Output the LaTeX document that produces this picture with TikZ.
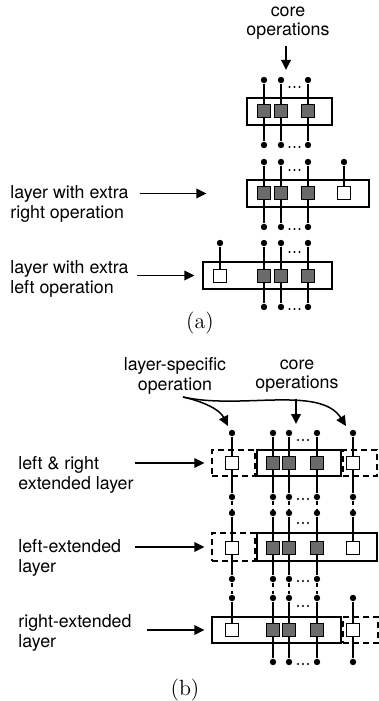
\documentclass[tikz,border=0pt]{standalone}
\usepackage{fontspec}
\setsansfont{TeX Gyre Heros}
\usetikzlibrary{arrows.meta, positioning}

\begin{document}
\begin{tikzpicture}[x=0.5pt, y=-0.5pt, >={Triangle[length=5pt,width=4.8pt]},
	lbl/.style={font=\sffamily\fontsize{8.9}{9.6}\selectfont, inner sep=0pt},
	captxt/.style={font=\fontsize{11}{13}\selectfont, inner sep=0pt},
	arr/.style={->, line width=0.75pt},
	wire/.style={line width=1.25pt},
	link/.style={line width=0.7pt, dash pattern=on 2.2pt off 1.8pt},
	pin/.style={circle, fill, inner sep=0pt, minimum size=3.2pt},
	coreop/.style={draw, line width=0.7pt, fill=black!58, minimum size=6.4pt, inner sep=0pt},
	extop/.style={coreop, fill=white},
	layerbox/.style={draw, line width=0.6pt, inner sep=0pt},
	extbox/.style={layerbox, dash pattern=on 3pt off 2pt}]
	\useasboundingbox (0,0) rectangle (379,701);

	% ---------- (a) ----------
	\node[lbl, align=center] (acore) at (288,23) {core\\operations};
	\coordinate (acoretip) at (286,70);
	\draw[arr, shorten <=3pt] (acoretip |- acore.south) -- (acoretip);

	% camada com as operacoes do nucleo
	\foreach \n/\x in {1/264, 2/281, 3/308} {
		\node[pin] (a1t\n) at (\x,80) {};
		\node[pin] (a1b\n) at (\x,145) {};
		\draw[wire] (a1t\n) -- (a1b\n);
	}
	\node[layerbox, minimum width=42.5pt, minimum height=13.5pt] (a1box) at (289.5,111.5) {};
	\foreach \n/\x in {1/264, 2/281, 3/308}
		\node[coreop] (a1op\n) at (\x,111) {};
	\foreach \y in {87,147} \foreach \d in {-5,0,5}
		\fill (294.5+\d,\y) circle (0.6pt);

	% camada com operacao extra a direita
	\foreach \n/\x in {1/264, 2/281, 3/308} {
		\node[pin] (a2t\n) at (\x,162) {};
		\node[pin] (a2b\n) at (\x,227) {};
		\draw[wire] (a2t\n) -- (a2b\n);
	}
	\node[pin] (a2tx) at (344,162) {};
	\node[layerbox, minimum width=61pt, minimum height=13.5pt] (a2box) at (308,193.5) {};
	\foreach \n/\x in {1/264, 2/281, 3/308}
		\node[coreop] (a2op\n) at (\x,193) {};
	\node[extop] (a2opx) at (344,193) {};
	\draw[wire] (a2tx) -- (a2opx);
	\foreach \y in {170,229} \foreach \d in {-5,0,5}
		\fill (294.5+\d,\y) circle (0.6pt);
	\node[lbl, align=left, anchor=west] (a2lbl) at (10,204) {layer with extra\\right operation};
	\draw[arr] ([xshift=5.5pt]a2lbl.east |- a2box.west) -- ([xshift=-20pt]a2box.west);

	% camada com operacao extra a esquerda
	\foreach \n/\x in {1/264, 2/281, 3/308} {
		\node[pin] (a3t\n) at (\x,243) {};
		\node[pin] (a3b\n) at (\x,307) {};
		\draw[wire] (a3t\n) -- (a3b\n);
	}
	\node[pin] (a3tx) at (220,243) {};
	\node[layerbox, minimum width=64.5pt, minimum height=13.5pt] (a3box) at (267.5,275.5) {};
	\foreach \n/\x in {1/264, 2/281, 3/308}
		\node[coreop] (a3op\n) at (\x,276) {};
	\node[extop] (a3opx) at (220,276) {};
	\draw[wire] (a3tx) -- (a3opx);
	\foreach \y in {252,309} \foreach \d in {-5,0,5}
		\fill (294.5+\d,\y) circle (0.6pt);
	\node[lbl, align=left, anchor=west] (a3lbl) at (10,279) {layer with extra\\left operation};
	\draw[arr] ([xshift=4pt]a3lbl.east |- a3box.west) -- ([xshift=-4pt]a3box.west);

	\node[captxt] (acap) at (200,323) {(a)};

	% ---------- (b) ----------
	\node[lbl, align=center] (bspec) at (175,376) {layer-specific\\operation};
	\node[lbl, align=center] (bcore) at (297,376) {core\\operations};
	\coordinate (specsrc) at (183,397);
	\coordinate (bLtip) at (228,426);
	\coordinate (bRtip) at (346,426);
	\coordinate (bcoretip) at (296,424);
	\draw[arr] (specsrc) .. controls (205,402) and (220,410) .. (bLtip);
	\draw[arr] (specsrc) .. controls (240,410) and (320,385) .. (bRtip);
	\draw[arr, shorten <=3pt] (bcoretip |- bcore.south) -- (bcoretip);

	% camada estendida nos dois lados
	\foreach \n/\x in {L/232, 1/273, 2/289, 3/317, R/353} {
		\node[pin] (b1t\n) at (\x,433) {};
		\node[pin] (b1b\n) at (\x,497) {};
		\draw[wire] (b1t\n) -- (b1b\n);
	}
	\node[extbox, minimum width=21.5pt, minimum height=13pt] (b1left) at (233.5,463) {};
	\node[layerbox, minimum width=42pt, minimum height=13pt] (b1box) at (299,463) {};
	\node[extbox, minimum width=17pt, minimum height=13pt] (b1right) at (360,463) {};
	\foreach \n/\x in {1/273, 2/289, 3/317}
		\node[coreop] (b1op\n) at (\x,463) {};
	\node[extop] (b1opL) at (232,463) {};
	\node[extop] (b1opR) at (353,463) {};
	\foreach \y in {440,499} \foreach \d in {-5,0,5}
		\fill (303+\d,\y) circle (0.6pt);
	\node[lbl, align=left, anchor=west] (b1lbl) at (18,475) {left \& right\\extended layer};
	\draw[arr] ([xshift=0.5pt]b1lbl.east |- b1left.west) -- ([xshift=-3.5pt]b1left.west);

	% camada estendida a esquerda
	\foreach \n/\x in {L/232, 1/273, 2/289, 3/317} {
		\node[pin] (b2t\n) at (\x,513) {};
		\node[pin] (b2b\n) at (\x,579) {};
		\draw[wire] (b2t\n) -- (b2b\n);
	}
	\node[pin] (b2tR) at (353,513) {};
	\foreach \n in {L,1,2,3,R}
		\draw[link] (b1b\n) -- (b2t\n);
	\node[extbox, minimum width=21.5pt, minimum height=14pt] (b2left) at (233.5,547) {};
	\node[layerbox, minimum width=60pt, minimum height=14pt] (b2box) at (317,547) {};
	\foreach \n/\x in {1/273, 2/289, 3/317}
		\node[coreop] (b2op\n) at (\x,548) {};
	\node[extop] (b2opL) at (232,548) {};
	\node[extop] (b2opR) at (353,548) {};
	\draw[wire] (b2tR) -- (b2opR);
	\foreach \y in {523,581} \foreach \d in {-5,0,5}
		\fill (303+\d,\y) circle (0.6pt);
	\node[lbl, align=left, anchor=west] (b2lbl) at (18,558) {left-extended\\layer};
	\draw[arr] ([xshift=7pt]b2lbl.east |- b2left.west) -- ([xshift=-3.5pt]b2left.west);

	% camada estendida a direita
	\foreach \n/\x in {1/273, 2/289, 3/317, R/353} {
		\node[pin] (b3t\n) at (\x,598) {};
		\node[pin] (b3b\n) at (\x,662) {};
		\draw[wire] (b3t\n) -- (b3b\n);
	}
	\node[pin] (b3tL) at (232,598) {};
	\foreach \n in {L,1,2,3}
		\draw[link] (b2b\n) -- (b3t\n);
	\node[layerbox, minimum width=64.5pt, minimum height=13pt] (b3box) at (276.5,630) {};
	\node[extbox, minimum width=17.5pt, minimum height=13pt] (b3right) at (360.5,630) {};
	\foreach \n/\x in {1/273, 2/289, 3/317}
		\node[coreop] (b3op\n) at (\x,630) {};
	\node[extop] (b3opL) at (232,630) {};
	\node[extop] (b3opR) at (353,630) {};
	\draw[wire] (b3tL) -- (b3opL);
	\foreach \y in {606,664} \foreach \d in {-5,0,5}
		\fill (303+\d,\y) circle (0.6pt);
	\node[lbl, align=left, anchor=west] (b3lbl) at (18,633) {right-extended\\layer};
	\draw[arr] ([xshift=7.5pt]b3lbl.east |- b3box.west) -- ([xshift=-3.5pt]b3box.west);

	\node[captxt] (bcap) at (185,690) {(b)};
\end{tikzpicture}
\end{document}
